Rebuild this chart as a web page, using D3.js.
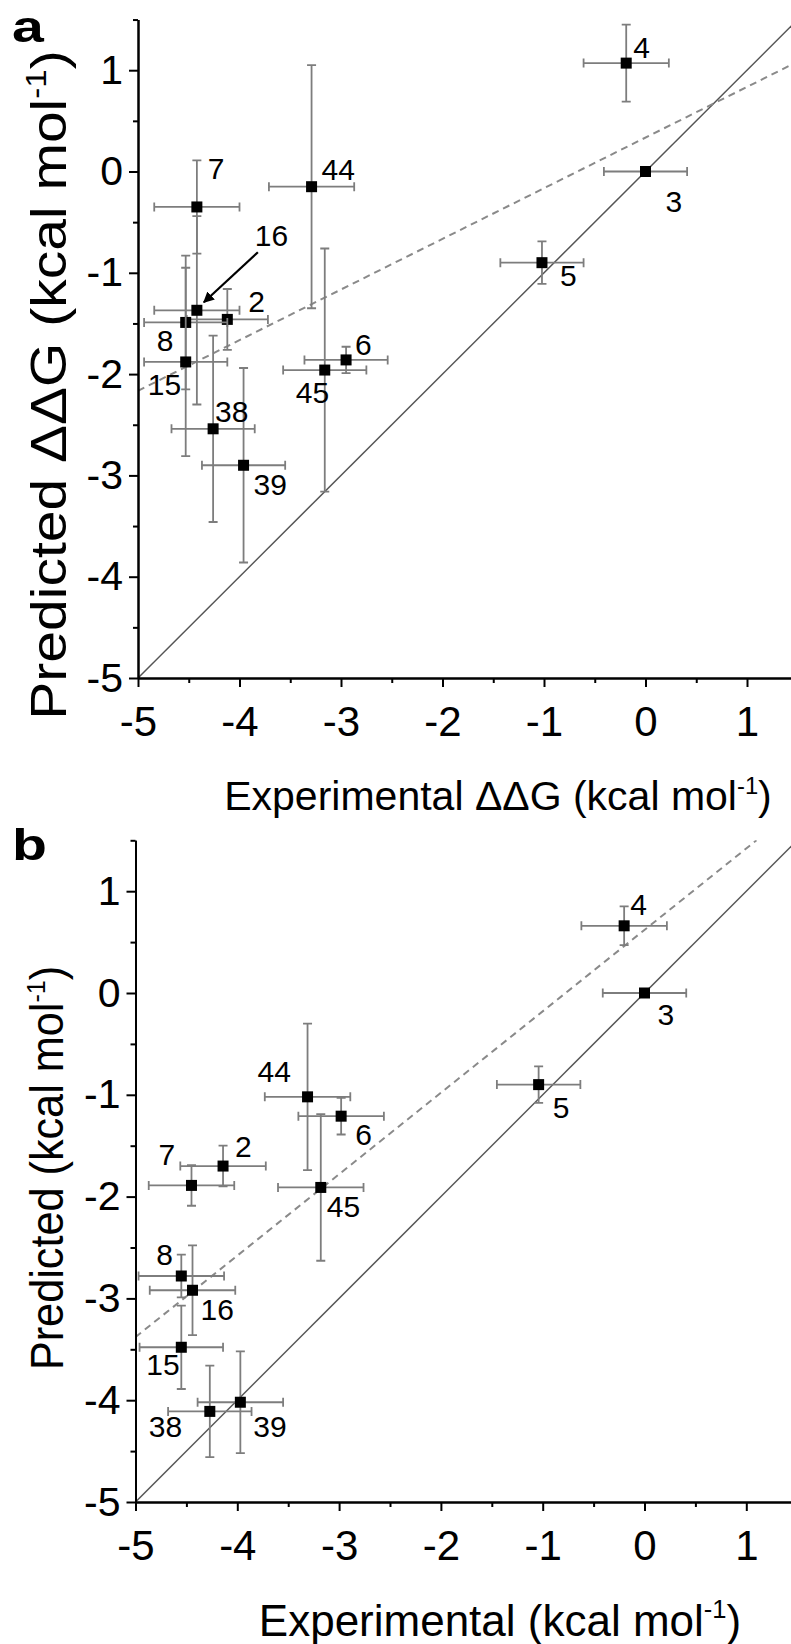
<!DOCTYPE html>
<html>
<head>
<meta charset="utf-8">
<script src="https://cdn.jsdelivr.net/npm/d3@7"></script>
<style>
  html, body { margin: 0; padding: 0; background: #fff; }
  svg { display: block; font-family: "Liberation Sans", Arial, sans-serif; }
  .tick text { fill: #000; }
</style>
</head>
<body>
<svg id="chart" width="791" height="1644"></svg>
<script>
// compound ids, same order in both panels
const ids = ["2", "3", "4", "5", "6", "7", "8", "15", "16", "38", "39", "44", "45"];

// panel a: experimental vs predicted ddG
const expA = [-4.12, 0.00, -0.19, -1.02, -2.95, -4.42, -4.53, -4.53, -4.42, -4.26, -3.96, -3.29, -3.16];
const predA = [-1.46, 0.00, 1.07, -0.90, -1.86, -0.35, -1.49, -1.88, -1.37, -2.54, -2.90, -0.15, -1.96];
const expErrA = [0.40, 0.41, 0.42, 0.41, 0.41, 0.42, 0.41, 0.41, 0.42, 0.41, 0.41, 0.42, 0.41];
const predErrA = [0.30, 0, 0.38, 0.21, 0.13, 0.46, 0.66, 0.93, 0.93, 0.92, 0.96, 1.20, 1.20];

// panel b
const expB = [-4.14, 0.00, -0.20, -1.04, -2.98, -4.45, -4.55, -4.55, -4.44, -4.27, -3.97, -3.31, -3.18];
const predB = [-1.70, 0.00, 0.66, -0.90, -1.21, -1.89, -2.78, -3.48, -2.92, -4.11, -4.02, -1.02, -1.91];
const expErrB = [0.42, 0.41, 0.42, 0.41, 0.42, 0.42, 0.42, 0.41, 0.42, 0.41, 0.42, 0.42, 0.42];
const predErrB = [0.20, 0, 0.19, 0.18, 0.18, 0.20, 0.21, 0.41, 0.44, 0.45, 0.50, 0.72, 0.72];

// fitted (dashed) lines: slope, intercept
const fitA = [0.50, 0.335];
const fitB = [0.80, 0.62];

const majorTicks = [-5, -4, -3, -2, -1, 0, 1];
const minorTicks = [-4.5, -3.5, -2.5, -1.5, -0.5, 0.5, 1.5];

// label offsets (px) from each point, per panel
const labelOffA = {
  "2": [21, -7], "3": [20, 40], "4": [7, -5], "5": [18, 23], "6": [9, -5],
  "7": [11, -28], "8": [-29, 29], "15": [-38, 33], "16": [58, -64],
  "38": [2, -7], "39": [10, 30], "44": [10, -7], "45": [-29, 33]
};
const labelOffB = {
  "2": [12, -9], "3": [13, 32], "4": [6, -11], "5": [14, 33], "6": [14, 29],
  "7": [-33, -20], "8": [-25, -11], "15": [-35, 28], "16": [8, 30],
  "38": [-61, 26], "39": [13, 35], "44": [-50, -15], "45": [6, 30]
};

const svg = d3.select("#chart");

svg.append("defs").append("marker")
  .attr("id", "arrow")
  .attr("viewBox", "0 0 10 10")
  .attr("refX", 9).attr("refY", 5)
  .attr("markerWidth", 5).attr("markerHeight", 5)
  .attr("orient", "auto")
  .append("path")
  .attr("d", "M0,0 L10,5 L0,10 z")
  .attr("fill", "#000");

function drawPanel(cfg) {
  const x = d3.scaleLinear().domain([-5, 1.5]).range([cfg.x0, cfg.x0 + 6.5 * cfg.ux]);
  const y = d3.scaleLinear().domain([-5, 1.5]).range([cfg.y0, cfg.y0 - 6.5 * cfg.uy]);
  const g = svg.append("g");

  const clipId = "clip-" + cfg.name;
  g.append("clipPath").attr("id", clipId)
    .append("rect")
    .attr("x", cfg.x0).attr("y", y(1.5))
    .attr("width", 791 - cfg.x0).attr("height", cfg.y0 - y(1.5));

  const plot = g.append("g").attr("clip-path", `url(#${clipId})`);

  // y = x reference line
  plot.append("line")
    .attr("x1", x(-5)).attr("y1", y(-5))
    .attr("x2", x(1.5)).attr("y2", y(1.5))
    .attr("stroke", "#555").attr("stroke-width", 1.5);

  // fitted line
  const [m, b] = cfg.fit;
  const xEnd = Math.min(1.5, (1.5 - b) / m);
  plot.append("line")
    .attr("x1", x(-5)).attr("y1", y(m * -5 + b))
    .attr("x2", x(xEnd)).attr("y2", y(m * xEnd + b))
    .attr("stroke", "#8a8a8a").attr("stroke-width", 2)
    .attr("stroke-dasharray", "7,5");

  const data = ids.map((id, i) => ({
    id, x: cfg.ex[i], y: cfg.pr[i], xe: cfg.exErr[i], ye: cfg.prErr[i]
  }));

  const cap = 4.5;
  const pts = plot.selectAll("g.pt").data(data).join("g").attr("class", "pt");

  // horizontal error bars
  pts.append("path")
    .attr("d", d => {
      const cy = y(d.y), l = x(d.x - d.xe), r = x(d.x + d.xe);
      return `M${l},${cy}H${r}M${l},${cy - cap}V${cy + cap}M${r},${cy - cap}V${cy + cap}`;
    })
    .attr("stroke", "#7d7d7d").attr("stroke-width", 1.8).attr("fill", "none");

  // vertical error bars
  pts.filter(d => d.ye > 0).append("path")
    .attr("d", d => {
      const cx = x(d.x), t = y(d.y + d.ye), bt = y(d.y - d.ye);
      return `M${cx},${t}V${bt}M${cx - cap},${t}H${cx + cap}M${cx - cap},${bt}H${cx + cap}`;
    })
    .attr("stroke", "#7d7d7d").attr("stroke-width", 1.8).attr("fill", "none");

  pts.append("rect")
    .attr("x", d => x(d.x) - 5.5).attr("y", d => y(d.y) - 5.5)
    .attr("width", 11).attr("height", 11)
    .attr("fill", "#000");

  // point labels
  g.selectAll("text.lbl").data(data).join("text")
    .attr("class", "lbl")
    .attr("x", d => x(d.x) + cfg.offs[d.id][0])
    .attr("y", d => y(d.y) + cfg.offs[d.id][1])
    .attr("font-size", 30)
    .text(d => d.id);

  // axes
  const yAxis = g.append("g").attr("transform", `translate(${cfg.x0},0)`)
    .call(d3.axisLeft(y).tickValues(majorTicks).tickSize(9).tickSizeOuter(0)
      .tickPadding(6).tickFormat(d => String(d)));
  yAxis.selectAll("text").attr("font-size", 41);
  g.append("g").attr("transform", `translate(${cfg.x0},0)`)
    .call(d3.axisLeft(y).tickValues(minorTicks).tickSize(5).tickSizeOuter(0).tickFormat(""));

  const xAxis = g.append("g").attr("transform", `translate(0,${cfg.y0})`)
    .call(d3.axisBottom(x).tickValues(majorTicks).tickSize(9).tickSizeOuter(0)
      .tickPadding(19).tickFormat(d => String(d)));
  xAxis.selectAll("text").attr("font-size", 42);
  g.append("g").attr("transform", `translate(0,${cfg.y0})`)
    .call(d3.axisBottom(x).tickValues(minorTicks).tickSize(5).tickSizeOuter(0).tickFormat(""));

  g.selectAll(".domain").attr("stroke", "#000").attr("stroke-width", 2);
  g.selectAll(".tick line").attr("stroke", "#000").attr("stroke-width", 2);

  // axis titles
  const xs = cfg.xTitleSize;
  const xt = g.append("text")
    .attr("x", cfg.xTitleX).attr("y", cfg.y0 + cfg.xTitleDy)
    .attr("text-anchor", "middle").attr("font-size", xs);
  xt.append("tspan").text(cfg.xTitle + " (kcal mol");
  xt.append("tspan").attr("dy", -xs * 0.4).attr("font-size", xs * 0.58).text("-1");
  xt.append("tspan").attr("dy", xs * 0.4).text(")");

  const ys = cfg.yTitleSize;
  const yt = g.append("text")
    .attr("transform", `translate(${cfg.yTitleX},${cfg.yTitleY}) rotate(-90) scale(${cfg.yTitleStretch},1)`)
    .attr("text-anchor", "middle").attr("font-size", ys);
  yt.append("tspan").text(cfg.yTitle + " (kcal mol");
  yt.append("tspan").attr("dy", -ys * 0.4).attr("font-size", ys * 0.58).text("-1");
  yt.append("tspan").attr("dy", ys * 0.4).text(")");

  // panel letter
  g.append("text")
    .attr("transform", `translate(${cfg.letterX},${cfg.letterY}) scale(1.3,1)`)
    .attr("font-size", 44).attr("font-weight", "bold")
    .text(cfg.name);

  // arrow to point 16 in panel a
  if (cfg.arrow) {
    const p = data.find(d => d.id === cfg.arrow);
    g.append("line")
      .attr("x1", x(p.x) + 61).attr("y1", y(p.y) - 58)
      .attr("x2", x(p.x) + 7).attr("y2", y(p.y) - 8)
      .attr("stroke", "#000").attr("stroke-width", 2.2)
      .attr("marker-end", "url(#arrow)");
  }
}

drawPanel({
  name: "a", x0: 138, y0: 678, ux: 101.5, uy: 101.3,
  ex: expA, pr: predA, exErr: expErrA, prErr: predErrA, fit: fitA, offs: labelOffA,
  xTitle: "Experimental \u0394\u0394G", xTitleX: 498, xTitleSize: 41, xTitleDy: 132,
  yTitle: "Predicted \u0394\u0394G", yTitleX: 66, yTitleY: 385, yTitleSize: 50, yTitleStretch: 1.14,
  letterX: 12, letterY: 42, arrow: "16"
});

drawPanel({
  name: "b", x0: 135.5, y0: 1502, ux: 101.8, uy: 101.8,
  ex: expB, pr: predB, exErr: expErrB, prErr: predErrB, fit: fitB, offs: labelOffB,
  xTitle: "Experimental", xTitleX: 500, xTitleSize: 44, xTitleDy: 134,
  yTitle: "Predicted", yTitleX: 63, yTitleY: 1168, yTitleSize: 46, yTitleStretch: 0.94,
  letterX: 12, letterY: 860
});
</script>
</body>
</html>
